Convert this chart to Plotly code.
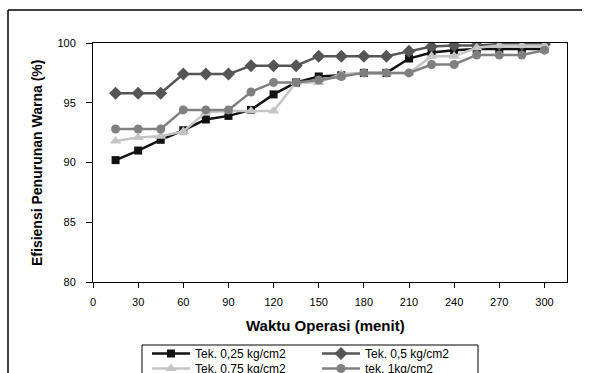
import plotly.graph_objects as go

waktu = [15, 30, 45, 60, 75, 90, 105, 120, 135, 150, 165, 180, 195, 210, 225, 240, 255, 270, 285, 300]
tek_025 = [90.2, 91.0, 91.9, 92.7, 93.6, 93.9, 94.4, 95.7, 96.7, 97.2, 97.3, 97.5, 97.5, 98.7, 99.2, 99.4, 99.5, 99.5, 99.5, 99.5]
tek_05 = [95.8, 95.8, 95.8, 97.4, 97.4, 97.4, 98.1, 98.1, 98.1, 98.9, 98.9, 98.9, 98.9, 99.3, 99.7, 99.8, 99.8, 99.9, 99.9, 99.9]
tek_075 = [91.8, 92.1, 92.2, 92.6, 94.2, 94.3, 94.3, 94.3, 96.7, 96.7, 97.4, 97.5, 97.5, 97.5, 98.9, 98.9, 99.6, 99.8, 99.8, 99.8]
tek_1 = [92.8, 92.8, 92.8, 94.4, 94.4, 94.4, 95.9, 96.7, 96.7, 96.9, 97.2, 97.5, 97.5, 97.5, 98.2, 98.2, 99.0, 99.0, 99.0, 99.4]

names = ["Tek. 0,25 kg/cm2", "Tek. 0,5 kg/cm2", "Tek. 0,75 kg/cm2", "tek. 1kg/cm2"]
x_ticks = [0, 30, 60, 90, 120, 150, 180, 210, 240, 270, 300]
y_ticks = [80, 85, 90, 95, 100]

FONT = "Liberation Sans, Arial, sans-serif"

series = [
    (tek_025, names[0], "#111111", "square", 8, "legend"),
    (tek_05, names[1], "#555555", "diamond", 10, "legend2"),
    (tek_075, names[2], "#c4c4c4", "triangle-up", 10, "legend3"),
    (tek_1, names[3], "#808080", "circle", 9, "legend4"),
]

fig = go.Figure()
for ys, nm, col, sym, sz, lg in series:
    fig.add_trace(go.Scatter(
        x=waktu, y=ys, name=nm, mode="lines+markers",
        line=dict(color=col, width=2.5),
        marker=dict(symbol=sym, size=sz, color=col),
        legend=lg,
    ))

# plot area pixel geometry
L, R, T, B = 93, 567, 43, 282
W, H = R - L, B - T

def px(xp):
    return (xp - L) / W

def py(yp):
    return (B - yp) / H

legend_common = dict(
    bgcolor="rgba(0,0,0,0)", borderwidth=0, itemwidth=38,
    font=dict(family=FONT, size=12, color="black"),
    xanchor="left", yanchor="top",
)

fig.update_layout(
    width=591, height=373,
    margin=dict(l=L, r=591 - R, t=T, b=373 - B, autoexpand=False),
    paper_bgcolor="white", plot_bgcolor="white",
    font=dict(family=FONT, size=11, color="black"),
    showlegend=True,
    legend=dict(x=px(147), y=py(339), **legend_common),
    legend2=dict(x=px(317), y=py(339), **legend_common),
    legend3=dict(x=px(147), y=py(354), **legend_common),
    legend4=dict(x=px(317), y=py(354), **legend_common),
    xaxis=dict(
        range=[0, 315], tickvals=x_ticks, ticktext=[str(v) for v in x_ticks],
        showgrid=False, zeroline=False,
        showline=True, linecolor="black", linewidth=1, mirror=True,
        ticks="outside", ticklen=5, tickcolor="black", tickwidth=1,
        ticklabelstandoff=5,
        tickfont=dict(family=FONT, size=11, color="black"),
    ),
    yaxis=dict(
        range=[80, 100], tickvals=y_ticks,
        showgrid=False, zeroline=False,
        showline=True, linecolor="black", linewidth=1, mirror=True,
        ticks="outside", ticklen=6, tickcolor="black", tickwidth=1,
        ticklabelstandoff=8,
        tickfont=dict(family=FONT, size=11, color="black"),
    ),
    annotations=[
        dict(text="<b>Waktu Operasi (menit)</b>", xref="paper", yref="paper",
             x=px(325), y=py(325), showarrow=False, xanchor="center", yanchor="middle",
             font=dict(family=FONT, size=15, color="black")),
        dict(text="<b>Efisiensi Penurunan Warna (%)</b>", xref="paper", yref="paper",
             x=px(37), y=py(163), showarrow=False, xanchor="center", yanchor="middle",
             textangle=-90, font=dict(family=FONT, size=14, color="black")),
    ],
    shapes=[
        # outer chart border (top and left visible)
        dict(type="line", xref="paper", yref="paper", x0=px(8), x1=px(582), y0=py(10), y1=py(10),
             line=dict(color="black", width=1.5)),
        dict(type="line", xref="paper", yref="paper", x0=px(8), x1=px(8), y0=py(10), y1=py(400),
             line=dict(color="black", width=1.5)),
        # legend box
        dict(type="rect", xref="paper", yref="paper", x0=px(142), x1=px(478), y0=py(345), y1=py(400),
             line=dict(color="black", width=1)),
    ],
)

fig.write_html("out.html")
